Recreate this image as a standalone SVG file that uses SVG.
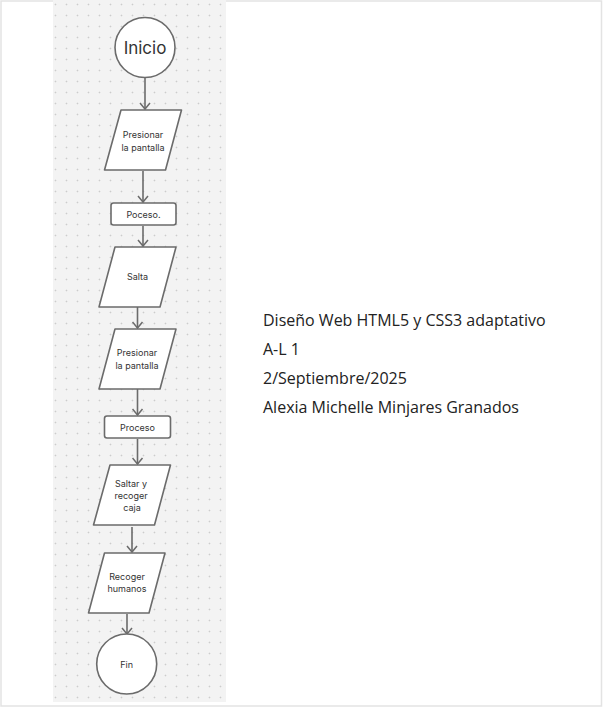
<svg xmlns="http://www.w3.org/2000/svg" width="603" height="708" viewBox="0 0 603 708">
<defs>
<pattern id="dots" x="50" y="-1" width="11" height="11" patternUnits="userSpaceOnUse">
<path d="M5.5 4.6V6.4M4.6 5.5H6.4" stroke="#c9c9c9" stroke-width="0.7"/>
</pattern>
<marker id="arr" viewBox="0 0 12 12" refX="10.5" refY="6" markerWidth="12" markerHeight="12" markerUnits="userSpaceOnUse" orient="auto">
<path d="M4.5 1L10.5 6L4.5 11" fill="none" stroke="#6b6b6b" stroke-width="1.5"/>
</marker>
<style>
.shape{fill:#fff;stroke:#6b6b6b;stroke-width:1.6;stroke-linejoin:round}
.lbl{font-family:Inter,"Liberation Sans",sans-serif;font-size:9px;fill:#333;text-anchor:middle}
.conn{stroke:#6b6b6b;stroke-width:1.6;fill:none}
.info{font-family:"Open Sans","Noto Sans",sans-serif;font-size:16px;fill:#222}
</style>
</defs>
<rect x="0" y="0" width="603" height="708" fill="#fff"/>
<rect x="1" y="1" width="600.5" height="705" fill="#fff" stroke="#e3e3e3" stroke-width="1.5"/>
<rect x="53" y="0" width="173" height="702" fill="#f3f3f3"/>
<rect x="53" y="0" width="173" height="702" fill="url(#dots)"/>

<g id="connectors">
<line class="conn" x1="145" y1="78" x2="145" y2="109" marker-end="url(#arr)"/>
<line class="conn" x1="143" y1="171" x2="143" y2="202" marker-end="url(#arr)"/>
<line class="conn" x1="143" y1="226" x2="143" y2="246" marker-end="url(#arr)"/>
<line class="conn" x1="137.5" y1="307" x2="137.5" y2="328" marker-end="url(#arr)"/>
<line class="conn" x1="137.5" y1="389" x2="137.5" y2="415" marker-end="url(#arr)"/>
<line class="conn" x1="137.5" y1="439" x2="137.5" y2="464" marker-end="url(#arr)"/>
<line class="conn" x1="132" y1="527" x2="132" y2="552" marker-end="url(#arr)"/>
<line class="conn" x1="127" y1="614" x2="127" y2="634" marker-end="url(#arr)"/>
</g>

<g id="inicio">
<circle class="shape" cx="145" cy="47.5" r="30"/>
<text class="lbl" x="145" y="53.5" style="font-size:17px">Inicio</text>
</g>
<g id="presionar1">
<polygon class="shape" points="121,110 181.5,110 165.5,170 104.5,170"/>
<text class="lbl" x="143" y="138">Presionar</text>
<text class="lbl" x="143" y="150.5">la pantalla</text>
</g>
<g id="poceso">
<rect class="shape" x="111" y="203" width="65" height="22" rx="2.5"/>
<text class="lbl" x="143.5" y="217.5">Poceso.</text>
</g>
<g id="salta">
<polygon class="shape" points="115,247 176,247 160,307 99,307"/>
<text class="lbl" x="137.5" y="280">Salta</text>
</g>
<g id="presionar2">
<polygon class="shape" points="115,329 176,329 160,389 99,389"/>
<text class="lbl" x="137" y="356">Presionar</text>
<text class="lbl" x="137" y="368.5">la pantalla</text>
</g>
<g id="proceso">
<rect class="shape" x="104.5" y="416" width="66" height="22" rx="2.5"/>
<text class="lbl" x="137.5" y="430.5">Proceso</text>
</g>
<g id="saltar">
<polygon class="shape" points="110,465 170.5,465 154.5,525 93.5,525"/>
<text class="lbl" x="131" y="487">Saltar y</text>
<text class="lbl" x="131" y="499">recoger</text>
<text class="lbl" x="132" y="511">caja</text>
</g>
<g id="recoger">
<polygon class="shape" points="104.5,553 165,553 149,613 88.5,613"/>
<text class="lbl" x="127" y="580">Recoger</text>
<text class="lbl" x="127" y="592">humanos</text>
</g>
<g id="fin">
<circle class="shape" cx="126.7" cy="664" r="30"/>
<text class="lbl" x="126.7" y="667.5">Fin</text>
</g>

<g id="info">
<text class="info" x="263" y="326">Diseño Web HTML5 y CSS3 adaptativo</text>
<text class="info" x="263" y="355">A-L 1</text>
<text class="info" x="263" y="384">2/Septiembre/2025</text>
<text class="info" x="263" y="413">Alexia Michelle Minjares Granados</text>
</g>
</svg>
